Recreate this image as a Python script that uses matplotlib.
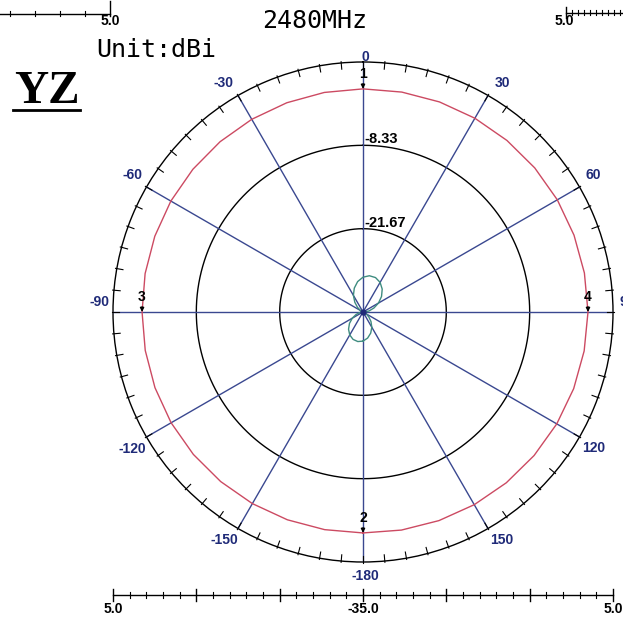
import numpy as np
import matplotlib
matplotlib.use('Agg')
import matplotlib.pyplot as plt

W, H = 623, 621

# ---------------- data ----------------
r_min, r_max = -35.0, 5.0
ring_values = [-21.67, -8.33]
ring_labels = ['-21.67', '-8.33']
spoke_angles = [0, 30, 60, 90, 120, 150, 180, 210, 240, 270, 300, 330]
angle_labels = ['0', '30', '60', '90', '120', '150', '-180', '-150', '-120', '-90', '-60', '-30']

red_angles = list(range(-180, 181, 10))
red_db = [0.35, 0.36, 0.38, 0.40, 0.42, 0.44, 0.45, 0.42, 0.38, 0.35,
          0.40, 0.45, 0.50, 0.53, 0.57, 0.60, 0.63, 0.67, 0.70, 0.73,
          0.77, 0.80, 0.83, 0.87, 0.90, 0.93, 0.97, 1.00, 0.93, 0.87,
          0.80, 0.73, 0.67, 0.60, 0.52, 0.43, 0.35]

green_angles = list(range(-180, 181, 10))
green_db = [-30.34, -30.20, -30.34, -30.76, -31.40, -32.18, -33.02, -33.80, -34.44, -34.86,
            -35.00, -35.00, -34.55, -33.86, -32.96, -31.93, -30.93, -30.06, -29.43, -29.11,
            -29.14, -29.53, -30.22, -31.13, -32.14, -33.15, -34.02, -34.65, -35.00, -34.86,
            -34.44, -33.80, -33.02, -32.18, -31.40, -30.76, -30.34]

marker_ids = ['1', '2', '3', '4']
marker_angles = [0, 180, -90, 90]

scale_values = [5.0, -8.33, -21.67, -35.0, -21.67, -8.33, 5.0]
scale_labels = ['5.0', '-35.0', '5.0']

title_text = '2480MHz'
unit_text = 'Unit:dBi'
plane_text = 'YZ'

# ---------------- styles ----------------
NAVY = '#1f2a78'
SPOKE = '#3a4890'
RED = '#cc4a62'
GREEN = '#3f8c80'
LBL_FONT = 'Liberation Sans'

fig = plt.figure(figsize=(W / 100, H / 100), dpi=100)
fig.patch.set_facecolor('white')

# decoration axes in pixel coordinates
deco = fig.add_axes([0, 0, 1, 1])
deco.set_xlim(0, W)
deco.set_ylim(H, 0)
deco.axis('off')
deco.patch.set_alpha(0)

cx, cy, R = 363, 312, 250
ax = fig.add_axes([(cx - R) / W, (H - cy - R) / H, 2 * R / W, 2 * R / H], projection='polar')
ax.set_theta_zero_location('N')
ax.set_theta_direction(-1)
ax.set_rlim(r_min, r_max)
ax.grid(False)
ax.set_xticks([])
ax.set_yticks([])
ax.spines['polar'].set_color('black')
ax.spines['polar'].set_linewidth(1.0)
ax.set_facecolor('white')

th = np.linspace(0, 2 * np.pi, 721)
for rv in ring_values:
    ax.plot(th, np.full_like(th, rv), color='black', lw=1.0, zorder=2)

for a in spoke_angles:
    t = np.deg2rad(a)
    ax.plot([t, t], [r_min, r_max], color=SPOKE, lw=1.0, zorder=3)
ax.plot([0], [r_min], marker='o', ms=3.5, color=NAVY, zorder=5)

# 5 degree ticks on outer circle
for a in range(0, 360, 5):
    t = np.deg2rad(a)
    ax.plot([t, t], [r_max - 1.0, r_max + 0.2], color='black', lw=0.8, clip_on=False, zorder=3)

# angle labels
for a, lab in zip(spoke_angles, angle_labels):
    t = np.deg2rad(a)
    s, c = np.sin(t), np.cos(t)
    if abs(s) < 0.1:
        dx = 2
        dy = 5 if c > 0 else -14
    else:
        dx = 14 * np.sign(s)
        if abs(c) < 0.1:
            dy = 10
        elif c > 0:
            dy = 12
        else:
            dy = -11.5
    ax.annotate(lab, xy=(t, r_max), xytext=(dx, dy), textcoords='offset pixels',
                ha='center', va='center', fontsize=10, fontweight='bold',
                color=NAVY, family=LBL_FONT, annotation_clip=False)

# ring labels
for rv, lab in zip(ring_values, ring_labels):
    ax.annotate(lab, xy=(0, rv), xytext=(1, -1), textcoords='offset pixels',
                ha='left', va='bottom', fontsize=10.5, fontweight='bold',
                color='black', family=LBL_FONT)

# data curves
ax.plot(np.deg2rad(red_angles), red_db, color=RED, lw=1.0, zorder=4)
ax.plot(np.deg2rad(green_angles), green_db, color=GREEN, lw=1.0, zorder=4)

# markers
for mid, ma in zip(marker_ids, marker_angles):
    mr = np.interp(ma, red_angles, red_db)
    ax.annotate(mid, xy=(np.deg2rad(ma), mr), xytext=(0, 8), textcoords='offset pixels',
                ha='center', va='bottom', fontsize=10, fontweight='bold', color='black',
                family=LBL_FONT,
                arrowprops=dict(arrowstyle='-|>', color='black', lw=0.9,
                                shrinkA=0, shrinkB=0, mutation_scale=6),
                zorder=6)

# ---------------- decorations ----------------
# bottom scale bar
x0, x1, yb = 113, 613, 595
deco.plot([x0, x1], [yb, yb], color='black', lw=1.0)
nseg = len(scale_values) - 1
seg = (x1 - x0) / nseg
for i in range(nseg + 1):
    xm = x0 + i * seg
    deco.plot([xm, xm], [yb - 6, yb + 6], color='black', lw=1.0)
    if i < nseg:
        for j in range(1, 5):
            xs = xm + j * seg / 5
            deco.plot([xs, xs], [yb - 3, yb + 3], color='black', lw=0.8)
for xl, lab in zip([x0, (x0 + x1) / 2, x1], scale_labels):
    deco.text(xl, 609, lab, ha='center', va='center', fontsize=10, fontweight='bold',
              family=LBL_FONT, color='black')

# top-left partial bar
deco.plot([0, 110], [14, 14], color='black', lw=1.0)
for xt in [10, 35, 60, 85]:
    deco.plot([xt, xt], [11, 16], color='black', lw=0.8)
deco.plot([110, 110], [1, 16], color='black', lw=1.0)
deco.text(110, 21, '5.0', ha='center', va='center', fontsize=10, fontweight='bold',
          family=LBL_FONT, color='black')

# top-right partial bar
deco.plot([566, 623], [13, 13], color='black', lw=1.0)
deco.plot([566, 566], [7, 18], color='black', lw=1.0)
for xt in np.arange(572, 623, 6):
    deco.plot([xt, xt], [10, 15], color='black', lw=0.8)
deco.text(564, 21, '5.0', ha='center', va='center', fontsize=10, fontweight='bold',
          family=LBL_FONT, color='black')

# titles
deco.text(314.5, 21, title_text, ha='center', va='center', fontsize=18,
          family='DejaVu Sans Mono', color='black')
deco.text(156.5, 50, unit_text, ha='center', va='center', fontsize=18,
          family='DejaVu Sans Mono', color='black')
deco.text(46.5, 103, plane_text, ha='center', va='baseline', fontsize=34,
          fontweight='bold', family='Liberation Serif', color='black')
deco.plot([13, 80], [110, 110], color='black', lw=2.0)

fig.savefig('out.png', dpi=100, facecolor='white')
